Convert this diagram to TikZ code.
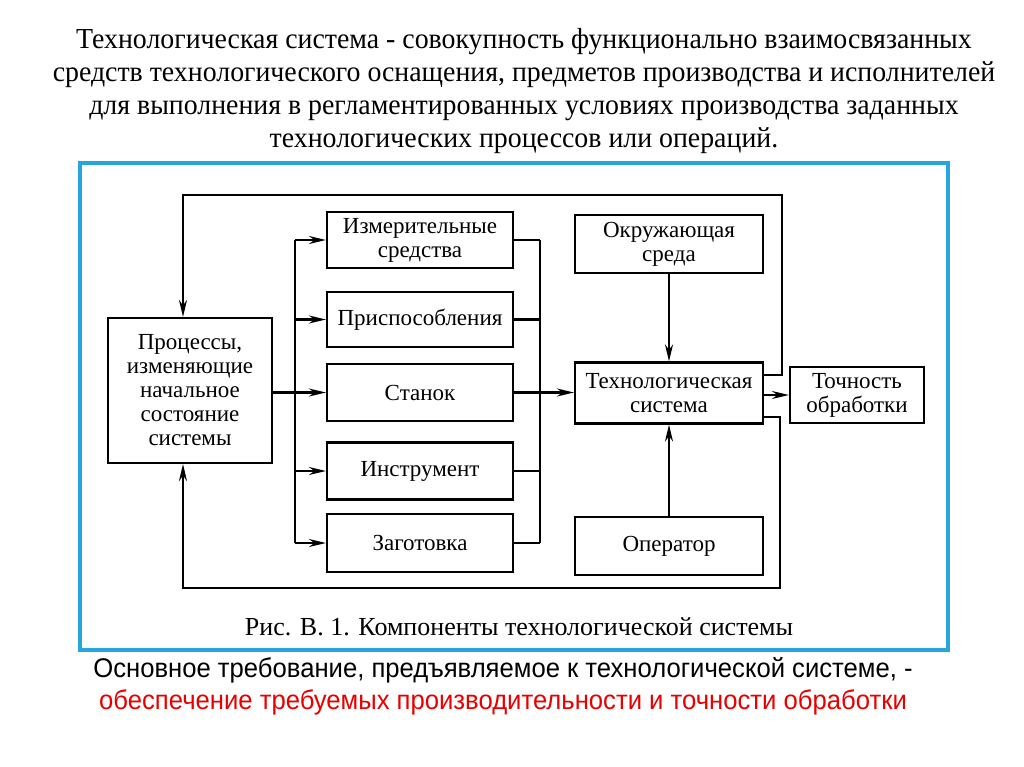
\documentclass[tikz,border=0pt]{standalone}
\usepackage{fontspec}
\usepackage{graphicx}
\setmainfont{Liberation Serif}
\newfontfamily\narrowsans{Liberation Sans}
\usetikzlibrary{arrows.meta}
\definecolor{frameblue}{RGB}{38,166,222}
\definecolor{textred}{RGB}{232,0,0}
\newcommand{\squeeze}[2]{\scalebox{#1}[1]{#2}}

\begin{document}
\begin{tikzpicture}[x=1pt, y=-1pt, line width=2.2pt,
  block/.style={draw, align=center, inner sep=2pt,
    font=\fontsize{23}{24}\selectfont},
  arr/.style={-{Stealth[length=17pt, width=8pt]}}]
  \useasboundingbox (0,0) rectangle (1024,767);
  \node [align=center, font=\fontsize{29}{33}\selectfont] (title) at (524,91)
    {\squeeze{0.96}{Технологическая система - совокупность функционально взаимосвязанных}\\
     \squeeze{0.96}{средств технологического оснащения, предметов производства и исполнителей}\\
     \squeeze{0.96}{для выполнения в регламентированных условиях производства заданных}\\
     \squeeze{0.96}{технологических процессов или операций.}};
  \draw [frameblue, line width=3.5pt] (80,163) rectangle (948,650);

  \node [block, minimum width=164pt, minimum height=145pt] (proc) at (190,390.5)
    {Процессы,\\изменяющие\\начальное\\состояние\\системы};
  \node [block, minimum width=186pt, minimum height=56pt] (izm) at (420,240)
    {Измерительные\\средства};
  \node [block, minimum width=186pt, minimum height=55pt] (prisp) at (420,319.5)
    {Приспособления};
  \node [block, minimum width=186pt, minimum height=57pt] (stanok) at (420,392.5)
    {Станок};
  \node [block, minimum width=186pt, minimum height=57pt] (instr) at (420,471)
    {Инструмент};
  \node [block, minimum width=186pt, minimum height=58pt] (zag) at (420,543)
    {Заготовка};
  \node [block, minimum width=188pt, minimum height=58pt] (okr) at (669,244)
    {Окружающая\\среда};
  \node [block, minimum width=188pt, minimum height=61pt] (tech) at (669,393)
    {Технологическая\\система};
  \node [block, minimum width=134pt, minimum height=56pt] (toch) at (857,395)
    {Точность\\обработки};
  \node [block, minimum width=188pt, minimum height=58pt] (oper) at (669,546)
    {Оператор};

  \coordinate (split) at (295,0);
  \coordinate (join) at (540,0);
  \coordinate (fbtop) at (183,195);
  \coordinate (fbbot) at (183,588);

  \draw [arr] (proc.east |- stanok) -- (stanok.west);
  \draw (split |- izm) -- (split |- zag);
  \foreach \b in {izm, prisp, instr, zag}
    \draw [arr] (split |- \b) -- (\b.west);
  \foreach \b in {izm, prisp, instr, zag}
    \draw (\b.east) -- (join |- \b);
  \draw (join |- izm) -- (join |- zag);
  \draw [arr] (stanok.east) -- (tech.west |- stanok);

  \draw [arr] (okr.south) -- (tech.north);
  \draw [arr] (oper.north) -- (tech.south);
  \draw [arr] (tech.east |- toch) -- (toch.west);
  \draw [arr] ([yshift=18pt]tech.east) -- ++(18,0) |- (fbtop) -- (fbtop |- proc.north);
  \draw [arr] ([yshift=-24pt]tech.east) -- ++(16,0) |- (fbbot) -- (fbbot |- proc.south);

  \node [font=\fontsize{26}{28}\selectfont] (caption) at (519,627)
    {Рис. В. 1. Компоненты технологической системы};
  \node [align=center, font=\narrowsans\fontsize{27}{32}\selectfont] (req) at (503,686)
    {\squeeze{0.95}{Основное требование, предъявляемое к технологической системе, -}\\
     \color{textred}\squeeze{0.95}{обеспечение требуемых производительности и точности обработки}};
\end{tikzpicture}
\end{document}
